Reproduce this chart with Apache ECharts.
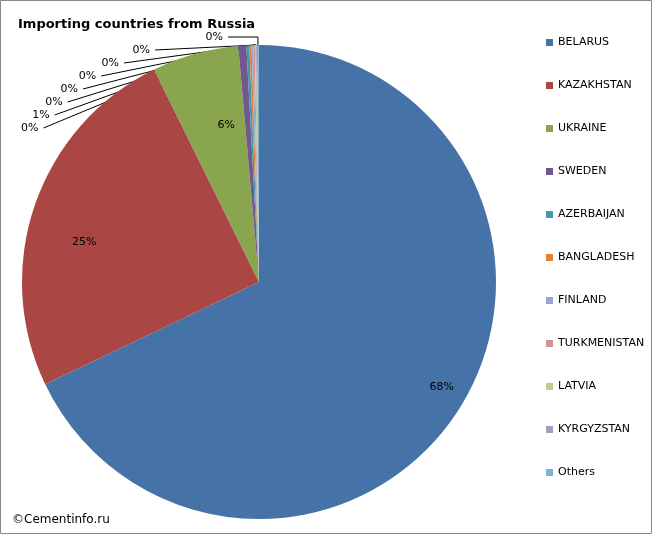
<!DOCTYPE html><html><head><meta charset="utf-8">
<script src="https://cdn.jsdelivr.net/npm/echarts@6/dist/echarts.min.js"></script>
<style>body{margin:0}#c{width:652px;height:534px}</style></head><body><div id="c"></div>
<script>
const categories=['BELARUS','KAZAKHSTAN','UKRAINE','SWEDEN','AZERBAIJAN','BANGLADESH','FINLAND','TURKMENISTAN','LATVIA','KYRGYZSTAN','Others'];
const values=[67.9,24.8,5.9,0.55,0.2,0.15,0.12,0.1,0.08,0.06,0.14];
const labelsShown=['68%','25%','6%','0%','1%','0%','0%','0%','0%','0%','0%'];
const colors=['#4572A7','#AA4643','#89A54E','#71588F','#4198AF','#DB843D','#93A9CF','#D19392','#B9CD96','#A99BBD','#7CB5D2'];
const chart=echarts.init(document.getElementById('c'));
const data=categories.map((n,i)=>{
  const big=i<3;
  return {name:n,value:values[i],
    label:big?{position:'inside',offset:i===0?[80,40]:(i===1?[-60,0]:[0,-40])}:{position:'outside'},
    labelLine:{show:!big}};
});
chart.setOption({
  backgroundColor:'#fff',
  color:colors,
  graphic:[
    {type:'rect',shape:{x:0.5,y:0.5,width:651,height:533},style:{fill:'none',stroke:'#888',lineWidth:1}},
    {type:'text',left:18,top:18,style:{text:'Importing countries from Russia',font:'bold 13px "DejaVu Sans", sans-serif',fill:'#000'}},
    {type:'text',left:12,top:514,style:{text:'©Cementinfo.ru',font:'12px "DejaVu Sans", sans-serif',fill:'#000'}}
  ],
  legend:{orient:'vertical',left:541,top:32,itemWidth:7,itemHeight:7,itemGap:32,icon:'rect',
    textStyle:{fontSize:11,fontFamily:'DejaVu Sans',color:'#000'}},
  series:[{type:'pie',center:[259,282],radius:237,startAngle:90,clockwise:true,
    data:data,
    label:{formatter:p=>labelsShown[p.dataIndex],fontSize:11,fontFamily:'DejaVu Sans',color:'#000'},
    labelLine:{length:8,length2:30,lineStyle:{color:'#000',width:1}},
    labelLayout:{hideOverlap:false},
    itemStyle:{borderWidth:0}
  }]
});
</script></body></html>
